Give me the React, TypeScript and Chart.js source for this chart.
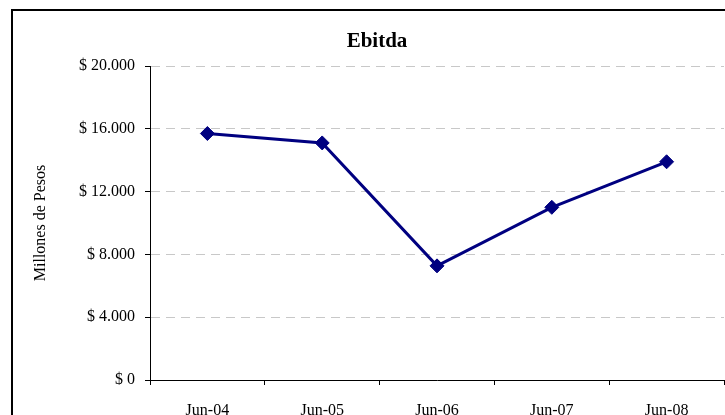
import React, { useEffect, useRef } from "react";
import { Chart, registerables } from "chart.js";

Chart.register(...registerables);

const categories: string[] = ["Jun-04", "Jun-05", "Jun-06", "Jun-07", "Jun-08"];
const ebitdaValues: number[] = [15700, 15100, 7270, 11000, 13900];
const chartTitle = "Ebitda";
const yAxisTitle = "Millones de Pesos";
const yMin = 0;
const yMax = 20000;
const yStep = 4000;

const SERIF = "'Liberation Serif', 'Times New Roman', serif";

function formatPesos(v: number): string {
  const s = String(Math.round(v)).replace(/\B(?=(\d{3})+(?!\d))/g, ".");
  return "$ " + s;
}

const titlePlugin = {
  id: "customTitle",
  afterDraw(chart: any) {
    const ctx = chart.ctx;
    ctx.save();
    ctx.font = `bold 21px ${SERIF}`;
    ctx.fillStyle = "#000";
    ctx.textAlign = "center";
    ctx.textBaseline = "alphabetic";
    ctx.fillText(chartTitle, 377, 47);
    ctx.restore();
  },
};

export default function App() {
  const canvasRef = useRef<HTMLCanvasElement | null>(null);

  useEffect(() => {
    if (!canvasRef.current) return;
    const chart = new Chart(canvasRef.current, {
      type: "line",
      data: {
        labels: categories,
        datasets: [
          {
            label: chartTitle,
            data: ebitdaValues,
            borderColor: "#000080",
            backgroundColor: "#000080",
            borderWidth: 3,
            pointStyle: "rectRot",
            pointRadius: 7,
            pointBorderWidth: 1,
            pointBackgroundColor: "#000080",
            pointBorderColor: "#000080",
            tension: 0,
            clip: false,
          },
        ],
      },
      options: {
        animation: false,
        responsive: false,
        maintainAspectRatio: false,
        layout: { autoPadding: false, padding: { top: 66, left: 0, right: 1, bottom: 0 } },
        plugins: {
          legend: { display: false },
          title: { display: false },
          tooltip: { enabled: false },
        },
        scales: {
          x: {
            type: "category",
            offset: true,
            grid: {
              display: true,
              offset: true,
              drawOnChartArea: false,
              drawTicks: true,
              tickLength: 5,
              tickColor: "#000",
              tickWidth: 1,
            },
            border: { display: true, color: "#000", width: 1 },
            ticks: {
              color: "#000",
              font: { family: SERIF, size: 16 },
              padding: 16,
              maxRotation: 0,
              autoSkip: false,
            },
            afterFit(scale: any) {
              scale.height = 35;
            },
          },
          y: {
            min: yMin,
            max: yMax,
            grid: {
              color: "#c8c8c8",
              lineWidth: 1,
              drawTicks: true,
              tickLength: 5,
              tickColor: "#000",
              tickWidth: 1,
            },
            border: { display: true, color: "#000", width: 1, dash: [9, 6] },
            ticks: {
              stepSize: yStep,
              color: "#000",
              font: { family: SERIF, size: 16 },
              padding: 10,
              callback: (v: any) => formatPesos(Number(v)),
            },
            title: {
              display: true,
              text: yAxisTitle,
              color: "#000",
              font: { family: SERIF, size: 16 },
              padding: { top: 31, bottom: 0 },
            },
            afterFit(scale: any) {
              scale.width = 150;
            },
          },
        },
      },
      plugins: [titlePlugin],
    });
    return () => chart.destroy();
  }, []);

  return (
    <div
      style={{
        position: "fixed",
        left: 0,
        top: 0,
        width: 725,
        height: 415,
        overflow: "hidden",
        background: "#fff",
      }}
    >
      <div
        style={{
          position: "absolute",
          left: 11,
          top: 9,
          width: 800,
          height: 500,
          border: "2px solid #000",
          boxSizing: "border-box",
        }}
      />
      <canvas
        ref={canvasRef}
        width={725}
        height={415}
        style={{ position: "absolute", left: 0, top: 0, width: 725, height: 415, display: "block" }}
      />
    </div>
  );
}
